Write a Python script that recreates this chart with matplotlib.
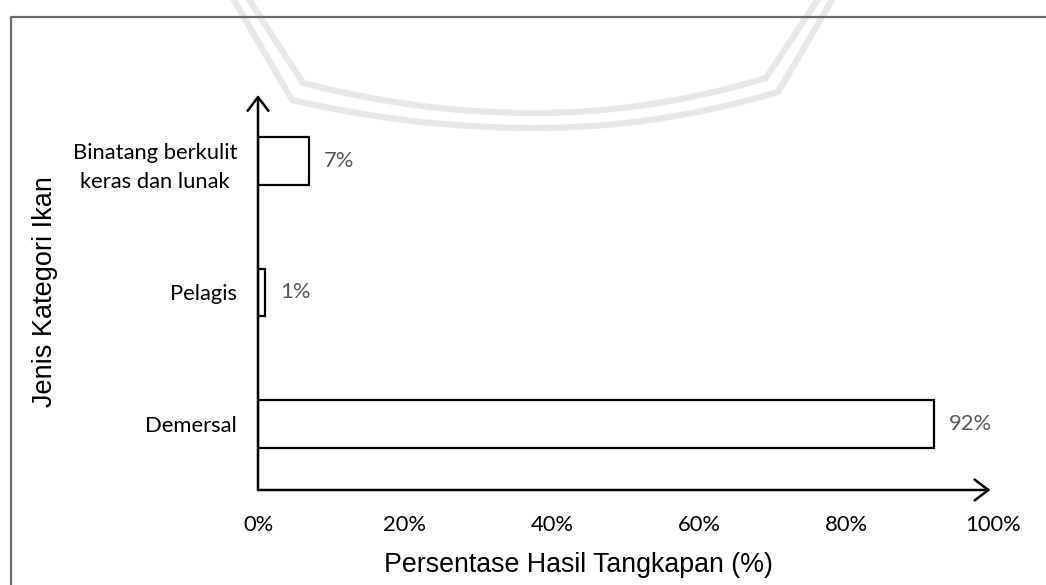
import numpy as np
import matplotlib
matplotlib.use("Agg")
import matplotlib.pyplot as plt

# data: share of catch by fish category (%)
categories = ["Demersal", "Pelagis", "Binatang berkulit\nkeras dan lunak"]
values = [92, 1, 7]
value_labels = ["92%", "1%", "7%"]
xticks = [0, 20, 40, 60, 80, 100]
xtick_labels = ["0%", "20%", "40%", "60%", "80%", "100%"]

W, H = 1046, 585
fig = plt.figure(figsize=(W / 100, H / 100), dpi=100)
fig.patch.set_facecolor("white")

bg = fig.add_axes([0, 0, 1, 1])
bg.set_xlim(0, W)
bg.set_ylim(H, 0)
bg.axis("off")


def shield(x_top_l, x_top_r, x_bot_l, x_bot_r, y_corner_l, y_corner_r, y_low):
    # straight slanted sides joined by a shallow curved bottom
    xc = (x_bot_l + x_bot_r) / 2
    xb = np.linspace(x_bot_l, x_bot_r, 200)
    half = (x_bot_r - x_bot_l) / 2
    yl = y_low - (y_low - y_corner_l) * ((xb - xc) / half) ** 2
    yr = y_low - (y_low - y_corner_r) * ((xb - xc) / half) ** 2
    yb = np.where(xb < xc, yl, yr)
    xs = np.concatenate([[x_top_l], xb, [x_top_r]])
    ys = np.concatenate([[-5], yb, [-5]])
    return xs, ys


# faint watermark in the background
for args in [(231, 835, 292, 778, 100, 92, 128), (246, 821, 303, 766, 83, 78, 113)]:
    xs, ys = shield(*args)
    bg.plot(xs, ys, color="#e8e8e8", lw=4.5, solid_joinstyle="round")

# outer frame line (left and top only visible)
bg.plot([11, 11, W + 5], [H + 5, 16.5, 16.5], color="#6b6b6b", lw=1.6)

# main axes: x 0..100 -> px 258..993, y axis from 490 up to 95
left, right, top, bottom = 258, 993, 95, 490
ax = fig.add_axes([left / W, (H - bottom) / H, (right - left) / W, (bottom - top) / H])
ax.patch.set_alpha(0)
ypos = np.arange(len(categories))
ax.barh(ypos, values, height=0.36, color="white", edgecolor="black", linewidth=1.6, zorder=3)
ax.set_xlim(0, 100)
ax.set_ylim(-0.5, 2.5)

for s in ax.spines.values():
    s.set_visible(False)

# arrow axes
head = "->,head_length=0.45,head_width=0.34"
ax.annotate("", xy=(0.9965, 0), xytext=(0, 0), xycoords="axes fraction",
            arrowprops=dict(arrowstyle=head, color="black", lw=1.8,
                            mutation_scale=22, shrinkA=0, shrinkB=0))
ax.annotate("", xy=(0, 1), xytext=(0, 0), xycoords="axes fraction",
            arrowprops=dict(arrowstyle=head, color="black", lw=1.8,
                            mutation_scale=22, shrinkA=0, shrinkB=0))

cal = "Lato"
ax.set_xticks(xticks)
ax.set_xticklabels(xtick_labels, fontfamily=cal, fontsize=15.8)
ax.set_yticks(ypos)
ax.set_yticklabels(categories, fontfamily=cal, fontsize=15.8, linespacing=1.6)
for lab in ax.get_yticklabels():
    lab.set_multialignment("center")
ax.tick_params(axis="x", length=0, pad=18)
ax.tick_params(axis="y", length=0, pad=15)

for y, v, lab in zip(ypos, values, value_labels):
    ax.text(v + 2.0, y, lab, va="center", ha="left", fontfamily=cal,
            fontsize=15.8, color="#595959")

fig.text(578 / W, 1 - 565 / H, "Persentase Hasil Tangkapan (%)", ha="center", va="center",
         fontfamily="Liberation Sans", fontsize=19.3)
fig.text(45 / W, 1 - 292 / H, "Jenis Kategori Ikan", ha="center", va="center",
         rotation=90, fontfamily="Liberation Sans", fontsize=19.5)

fig.savefig("out.png", dpi=100, facecolor="white")
